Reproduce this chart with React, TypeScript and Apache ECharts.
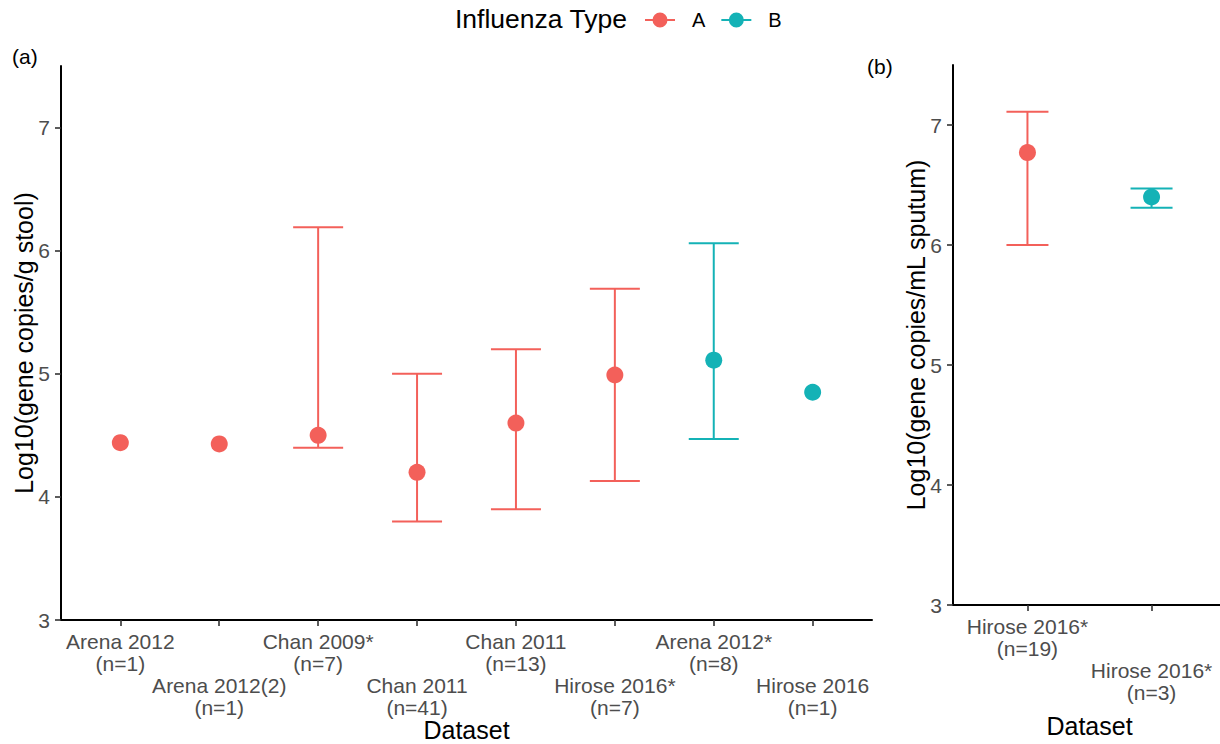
import React, { useEffect, useRef } from "react";
import * as echarts from "echarts";

// Panel (a): stool
const labelsA = [
  "Arena 2012\n(n=1)",
  "Arena 2012(2)\n(n=1)",
  "Chan 2009*\n(n=7)",
  "Chan 2011\n(n=41)",
  "Chan 2011\n(n=13)",
  "Hirose 2016*\n(n=7)",
  "Arena 2012*\n(n=8)",
  "Hirose 2016\n(n=1)",
];
const typesA = ["A", "A", "A", "A", "A", "A", "B", "B"];
const meansA = [4.44, 4.43, 4.5, 4.2, 4.6, 4.99, 5.11, 4.85];
const lowsA: (number | null)[] = [null, null, 4.4, 3.8, 3.9, 4.13, 4.47, null];
const highsA: (number | null)[] = [null, null, 6.19, 5.0, 5.2, 5.69, 6.06, null];

// Panel (b): sputum
const labelsB = ["Hirose 2016*\n(n=19)", "Hirose 2016*\n(n=3)"];
const typesB = ["A", "B"];
const meansB = [6.77, 6.4];
const lowsB: (number | null)[] = [6.0, 6.31];
const highsB: (number | null)[] = [7.11, 6.47];

const yTicks = [3, 4, 5, 6, 7];
const typeNames = ["A", "B"];
const colors: Record<string, string> = { A: "#F3605A", B: "#14B2B6" };

const FONT = "Liberation Sans, Arial, Helvetica, sans-serif";

function points(types: string[], means: number[], t: string) {
  const out: number[][] = [];
  means.forEach((m, i) => {
    if (types[i] === t) out.push([i + 1, m]);
  });
  return out;
}

function bars(types: string[], lows: (number | null)[], highs: (number | null)[], t: string) {
  const out: number[][] = [];
  lows.forEach((lo, i) => {
    const hi = highs[i];
    if (types[i] === t && lo != null && hi != null) out.push([i + 1, lo, hi]);
  });
  return out;
}

export default function App() {
  const ref = useRef<HTMLDivElement>(null);

  useEffect(() => {
    if (!ref.current) return;
    const chart = echarts.init(ref.current, undefined, { renderer: "svg" });

    const labelStyle = {
      margin: 10,
      fontSize: 21,
      lineHeight: 22,
      color: "#4D4D4D",
      fontFamily: FONT,
      showMinLabel: true,
      showMaxLabel: true,
      hideOverlap: false,
    };

    // Two x axes per panel: the first draws the line, ticks, the top label row
    // and the name; the second (same scale) draws the staggered second row.
    const xAxesFor = (labels: string[], gridIndex: number, nameGap: number) => {
      const all = labels.map((_, i) => i + 1);
      const odd = all.filter((v) => v % 2 === 1);
      const even = all.filter((v) => v % 2 === 0);
      const base = {
        type: "value",
        gridIndex,
        position: "bottom",
        min: 0.4,
        max: labels.length + 0.6,
        splitLine: { show: false },
      };
      return [
        {
          ...base,
          axisLine: { show: true, onZero: false, lineStyle: { color: "#000", width: 2 } },
          axisTick: { show: true, length: 6, customValues: all, lineStyle: { color: "#333", width: 1.6 } },
          axisLabel: {
            ...labelStyle,
            customValues: odd,
            formatter: (v: number) => labels[Math.round(v) - 1] ?? "",
          },
          name: "Dataset",
          nameLocation: "middle",
          nameGap,
          nameMoveOverlap: false,
          nameTextStyle: { fontSize: 25, color: "#000", fontFamily: FONT },
        },
        {
          ...base,
          axisLine: { show: false, onZero: false },
          axisTick: { show: false },
          axisLabel: {
            ...labelStyle,
            customValues: even,
            formatter: (v: number) => "\n\n" + (labels[Math.round(v) - 1] ?? ""),
          },
        },
      ];
    };

    const yAxisFor = (name: string, gridIndex: number, nameGap: number) => ({
      type: "value",
      gridIndex,
      min: 3,
      max: 7.5,
      splitLine: { show: false },
      axisLine: { show: true, onZero: false, lineStyle: { color: "#000", width: 2 } },
      axisTick: {
        show: true,
        length: 6,
        customValues: yTicks,
        lineStyle: { color: "#333", width: 1.6 },
      },
      axisLabel: {
        customValues: yTicks,
        showMinLabel: true,
        showMaxLabel: true,
        margin: 11,
        fontSize: 21,
        color: "#4D4D4D",
        fontFamily: FONT,
      },
      name,
      nameLocation: "middle",
      nameRotate: 90,
      nameGap,
      nameMoveOverlap: false,
      nameTextStyle: { fontSize: 25, color: "#000", fontFamily: FONT },
    });

    const errorSeries = (data: number[][], t: string, xi: number, yi: number, halfCap: number) => ({
      type: "custom",
      name: t,
      xAxisIndex: xi,
      yAxisIndex: yi,
      z: 1,
      data,
      encode: { x: 0, y: [1, 2] },
      renderItem: (_params: any, api: any) => {
        const x = api.value(0);
        const lo = api.coord([x, api.value(1)]);
        const hi = api.coord([x, api.value(2)]);
        const style = { stroke: colors[t], lineWidth: 2 };
        return {
          type: "group",
          children: [
            { type: "line", shape: { x1: lo[0], y1: lo[1], x2: hi[0], y2: hi[1] }, style },
            { type: "line", shape: { x1: lo[0] - halfCap, y1: lo[1], x2: lo[0] + halfCap, y2: lo[1] }, style },
            { type: "line", shape: { x1: hi[0] - halfCap, y1: hi[1], x2: hi[0] + halfCap, y2: hi[1] }, style },
          ],
        };
      },
    });

    const pointSeries = (data: number[][], t: string, xi: number, yi: number) => ({
      type: "scatter",
      name: t,
      xAxisIndex: xi,
      yAxisIndex: yi,
      z: 3,
      symbol: "circle",
      symbolSize: 17,
      itemStyle: { color: colors[t], opacity: 1 },
      data,
    });

    const series: any[] = [];
    typeNames.forEach((t) => {
      series.push(errorSeries(bars(typesA, lowsA, highsA, t), t, 0, 0, 25));
      series.push(errorSeries(bars(typesB, lowsB, highsB, t), t, 2, 1, 21));
    });
    typeNames.forEach((t) => {
      series.push(pointSeries(points(typesA, meansA, t), t, 0, 0));
      series.push(pointSeries(points(typesB, meansB, t), t, 2, 1));
    });

    chart.setOption({
      animation: false,
      backgroundColor: "#fff",
      textStyle: { fontFamily: FONT },
      grid: [
        { left: 61, top: 66, width: 811, height: 554, containLabel: false, outerBoundsMode: "none" },
        { left: 953, top: 65, width: 273, height: 540, containLabel: false, outerBoundsMode: "none" },
      ],
      xAxis: [...xAxesFor(labelsA, 0, 97), ...xAxesFor(labelsB, 1, 108)],
      yAxis: [
        yAxisFor("Log10(gene copies/g stool)", 0, 25),
        yAxisFor("Log10(gene copies/mL sputum)", 1, 25),
      ],
      legend: {
        left: 645,
        top: 10,
        padding: 0,
        data: typeNames.map((t) => ({
          name: t,
          icon: "path://M0,7L30,7L30,9L0,9Z M7.5,8A7.5,7.5 0 1,1 22.5,8A7.5,7.5 0 1,1 7.5,8Z",
          itemStyle: { color: colors[t] },
        })),
        itemWidth: 30,
        itemHeight: 15,
        itemGap: 16,
        selectedMode: false,
        textStyle: { fontSize: 20, color: "#000", fontFamily: FONT, padding: [0, 0, 0, 12] },
      },
      graphic: [
        {
          type: "text",
          left: 455,
          top: 5,
          style: { text: "Influenza Type", fontSize: 26.5, fill: "#000", fontFamily: FONT },
        },
        {
          type: "text",
          left: 12,
          top: 46,
          style: { text: "(a)", fontSize: 21, fill: "#000", fontFamily: FONT },
        },
        {
          type: "text",
          left: 867,
          top: 56,
          style: { text: "(b)", fontSize: 21, fill: "#000", fontFamily: FONT },
        },
      ],
      series,
    });

    return () => chart.dispose();
  }, []);

  return (
    <div
      ref={ref}
      style={{ position: "absolute", left: 0, top: 0, width: 1220, height: 744, overflow: "hidden" }}
    />
  );
}
